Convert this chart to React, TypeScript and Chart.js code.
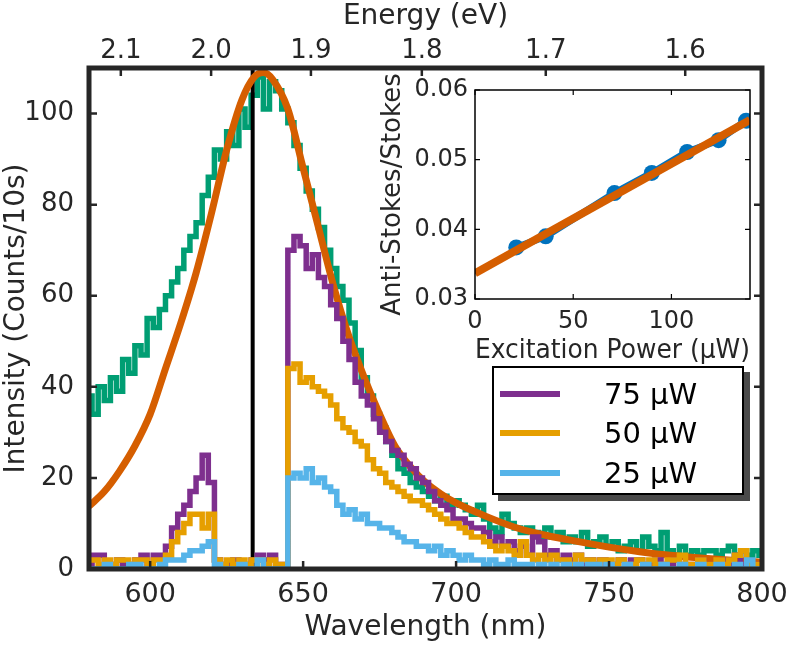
import React, { useEffect, useRef } from "react";
import { Chart, registerables } from "chart.js";

Chart.register(...registerables);

const FONT = "'DejaVu Sans', sans-serif";
const TEXT = "#262626";

// ---------- main spectrum data (2 nm grid) ----------
const WAVELENGTH = [
  580, 582, 584, 586, 588, 590, 592, 594, 596, 598,
  600, 602, 604, 606, 608, 610, 612, 614, 616, 618,
  620, 622, 624, 626, 628, 630, 632, 634, 636, 638,
  640, 642, 644, 646, 648, 650, 652, 654, 656, 658,
  660, 662, 664, 666, 668, 670, 672, 674, 676, 678,
  680, 682, 684, 686, 688, 690, 692, 694, 696, 698,
  700, 702, 704, 706, 708, 710, 712, 714, 716, 718,
  720, 722, 724, 726, 728, 730, 732, 734, 736, 738,
  740, 742, 744, 746, 748, 750, 752, 754, 756, 758,
  760, 762, 764, 766, 768, 770, 772, 774, 776, 778,
  780, 782, 784, 786, 788, 790, 792, 794, 796, 798,
  800,
];

const GREEN_NOFILTER = [
  38, 34, 40, 37, 42, 39, 46, 43, 49, 47,
  55, 53, 57, 60, 63, 66, 70, 73, 76, 82,
  86, 92, 90, 96, 93, 101, 97, 104, 108, 101,
  107, 105, 101, 98, 93, 88, 83, 79, 75, 70,
  66, 62, 59, 54, 48, 42, 38, 34, 31, 28,
  25, 22, 21, 19, 18, 17, 16, 15, 16, 14,
  15, 14, 13, 12, 14, 11, 9, 8, 12, 10,
  9, 8, 9, 8, 7, 9, 7, 8, 6, 7,
  6, 8, 5, 6, 7, 5, 6, 4, 5, 6,
  4, 7, 5, 4, 8, 4, 3, 5, 3, 4,
  3, 4, 4, 3, 4, 5, 3, 4, 3, 4,
  3,
];

const PURPLE_75 = [
  1, 3, 3, 1, 1, 2, 1, 1, 2, 3,
  1, 3, 3, 5, 9, 12, 14, 17, 20, 25,
  19, 2, 1, 1, 2, 1, 1, 2, 3, 2,
  3, 1, 1, 70, 73, 71, 66, 69, 64, 62,
  58, 55, 50, 46, 41, 38, 36, 33, 30, 28,
  26, 25, 23, 22, 20, 19, 17, 15, 14, 13,
  11, 11, 10, 9, 9, 8, 6, 7, 5, 6,
  4, 5, 3, 7, 6, 3, 4, 2, 3, 2,
  3, 1, 2, 1, 2, 1, 1, 2, 1, 2,
  2, 1, 1, 2, 1, 1, 2, 1, 1, 1,
  2, 1, 1, 1, 2, 1, 3, 1, 1, 1,
  1,
];

const YELLOW_50 = [
  2, 2, 1, 2, 1, 2, 2, 1, 2, 2,
  1, 2, 2, 3, 6, 8, 10, 12, 12, 9,
  12, 2, 1, 2, 1, 2, 1, 2, 2, 1,
  2, 1, 1, 44, 45, 41, 42, 40, 39, 38,
  36, 33, 31, 30, 28, 27, 24, 22, 21, 19,
  18, 17, 16, 15, 15, 14, 13, 12, 11, 10,
  10, 9, 8, 7, 7, 6, 5, 4, 5, 4,
  3, 6, 3, 2, 3, 2, 3, 2, 2, 1,
  3, 2, 2, 1, 2, 2, 1, 2, 1, 1,
  2, 1, 2, 1, 1, 2, 2, 3, 1, 1,
  2, 1, 1, 2, 1, 2, 3, 4, 1, 1,
  1,
];

const CYAN_25 = [
  0, 0, 0, 1, 0, 0, 0, 1, 1, 0,
  0, 0, 1, 2, 2, 2, 3, 4, 4, 5,
  6, 1, 0, 0, 0, 1, 0, 0, 2, 0,
  0, 0, 0, 20, 21, 20, 22, 19, 20, 18,
  17, 14, 12, 13, 11, 12, 10, 10, 9, 9,
  8, 7, 6, 6, 5, 5, 4, 5, 3, 4,
  3, 2, 3, 2, 2, 1, 2, 1, 1, 2,
  1, 1, 1, 0, 1, 0, 1, 0, 1, 0,
  1, 0, 1, 1, 0, 1, 0, 0, 1, 0,
  0, 1, 0, 0, 1, 0, 0, 1, 0, 0,
  1, 0, 0, 1, 0, 0, 1, 0, 2, 0,
  0,
];

// fitted curve (orange)
const FIT_NM = [580, 585, 590, 595, 600, 605, 610, 615, 620, 625, 630, 634, 637, 640, 645, 650, 655, 660, 665, 670, 675, 680, 685, 690, 695, 700, 710, 720, 730, 740, 750, 760, 770, 780, 790, 800];
const FIT_INTENSITY = [13.8, 17, 21.5, 27, 34, 44, 54, 65, 78, 92, 103, 108, 109, 107.5, 101, 88, 75, 62, 51, 42, 34, 27, 22.5, 19, 16.5, 14.5, 11.5, 9, 7.3, 6, 4.8, 3.8, 3, 2.4, 1.9, 1.5];

const LASER_NM = 633.5;

const X_TICKS = [600, 650, 700, 750, 800];
const Y_TICKS = [0, 20, 40, 60, 80, 100];
const ENERGY_TICKS = [2.1, 2.0, 1.9, 1.8, 1.7, 1.6];
const HC = 1239.84;

// ---------- inset data ----------
const POWER_UW = [21, 36, 71, 90, 108, 124, 138];
const AS_S_RATIO = [0.0374, 0.039, 0.0452, 0.0481, 0.0511, 0.0528, 0.0556];
const FIT_POWER = [0, 140];
const FIT_RATIO = [0.0337, 0.0557];
const INSET_X_TICKS = [0, 50, 100];
const INSET_Y_TICKS = [0.03, 0.04, 0.05, 0.06];

const C_PURPLE = "#7E2F8E";
const C_YELLOW = "#E69F00";
const C_CYAN = "#56B4E9";
const C_GREEN = "#009E73";
const C_ORANGE = "#D55E00";
const C_BLUE = "#0072BD";

const LEGEND = [
  { label: "75 μW", color: C_PURPLE },
  { label: "50 μW", color: C_YELLOW },
  { label: "25 μW", color: C_CYAN },
];

const pts = (xs: number[], ys: number[]) => xs.map((x, i) => ({ x, y: ys[i] }));

function makeFrame(id: string, opts: { len: number; frameW: number; tickW: number; color: string; topId?: string }) {
  return {
    id,
    afterDatasetsDraw(chart: any) {
      const { ctx, chartArea: a, scales } = chart;
      const xs = scales.x;
      const ys = scales.y;
      ctx.save();
      ctx.strokeStyle = opts.color;
      ctx.lineWidth = opts.tickW;
      ctx.beginPath();
      xs.ticks.forEach((t: any) => {
        const p = xs.getPixelForValue(t.value);
        ctx.moveTo(p, a.bottom);
        ctx.lineTo(p, a.bottom - opts.len);
        if (!opts.topId) {
          ctx.moveTo(p, a.top);
          ctx.lineTo(p, a.top + opts.len);
        }
      });
      if (opts.topId) {
        const ts = scales[opts.topId];
        ts.ticks.forEach((t: any) => {
          const p = ts.getPixelForValue(t.value);
          ctx.moveTo(p, a.top);
          ctx.lineTo(p, a.top + opts.len);
        });
      }
      ys.ticks.forEach((t: any) => {
        const p = ys.getPixelForValue(t.value);
        ctx.moveTo(a.left, p);
        ctx.lineTo(a.left + opts.len, p);
        ctx.moveTo(a.right, p);
        ctx.lineTo(a.right - opts.len, p);
      });
      ctx.stroke();
      ctx.lineWidth = opts.frameW;
      ctx.strokeRect(a.left, a.top, a.right - a.left, a.bottom - a.top);
      ctx.restore();
    },
  };
}

const NO_GRID = { display: false, drawTicks: false };

function mainConfig(): any {
  const tickFont = { family: FONT, size: 26 };
  const bottomTickFont = { family: FONT, size: 27 };
  const titleFont = { family: FONT, size: 28 };
  const spec = { borderWidth: 5.5, stepped: "middle", pointRadius: 0, borderJoinStyle: "miter" };
  return {
    type: "line",
    data: {
      datasets: [
        { label: "25 μW", data: pts(WAVELENGTH, CYAN_25), borderColor: C_CYAN, ...spec, order: 0 },
        { label: "50 μW", data: pts(WAVELENGTH, YELLOW_50), borderColor: C_YELLOW, ...spec, order: 1 },
        { label: "75 μW", data: pts(WAVELENGTH, PURPLE_75), borderColor: C_PURPLE, ...spec, order: 2 },
        { label: "fit", data: pts(FIT_NM, FIT_INTENSITY), borderColor: C_ORANGE, borderWidth: 7, cubicInterpolationMode: "monotone", pointRadius: 0, order: 3 },
        { label: "laser", data: [{ x: LASER_NM, y: 0 }, { x: LASER_NM, y: 110 }], borderColor: "#000", borderWidth: 4, pointRadius: 0, order: 4 },
        { label: "no filter", data: pts(WAVELENGTH, GREEN_NOFILTER), borderColor: C_GREEN, ...spec, order: 5 },
      ],
    },
    options: {
      responsive: false,
      animation: false,
      events: [],
      layout: { padding: { left: 0, right: 25, top: 0, bottom: 0 } },
      plugins: { legend: { display: false }, tooltip: { enabled: false } },
      scales: {
        x: {
          type: "linear", position: "bottom", min: 580, max: 800,
          grid: NO_GRID, border: { display: false },
          afterBuildTicks: (s: any) => { s.ticks = X_TICKS.map((v) => ({ value: v })); },
          afterFit: (s: any) => { s.height = 77; s.paddingLeft = 0; s.paddingRight = 0; },
          ticks: { font: bottomTickFont, color: TEXT, padding: 10, maxRotation: 0, autoSkip: false },
          title: { display: true, text: "Wavelength (nm)", font: titleFont, color: TEXT, padding: { top: 0, bottom: 1 } },
        },
        xTop: {
          type: "linear", position: "top", min: 580, max: 800,
          grid: NO_GRID, border: { display: false },
          afterBuildTicks: (s: any) => { s.ticks = ENERGY_TICKS.map((e) => ({ value: HC / e })); },
          afterFit: (s: any) => { s.height = 68; s.paddingLeft = 0; s.paddingRight = 0; },
          ticks: { font: tickFont, color: TEXT, padding: 1, maxRotation: 0, autoSkip: false, callback: (_v: any, i: number) => ENERGY_TICKS[i].toFixed(1) },
          title: { display: true, text: "Energy (eV)", font: titleFont, color: TEXT, padding: { top: 0, bottom: 0 } },
        },
        y: {
          type: "linear", position: "left", min: 0, max: 110,
          grid: NO_GRID, border: { display: false },
          afterBuildTicks: (s: any) => { s.ticks = Y_TICKS.map((v) => ({ value: v })); },
          afterFit: (s: any) => { s.width = 89; s.paddingTop = 0; s.paddingBottom = 0; },
          ticks: { font: tickFont, color: TEXT, padding: 15 },
          title: { display: true, text: "Intensity (Counts/10s)", font: titleFont, color: TEXT, padding: { top: 0, bottom: 0 } },
        },
      },
    },
    plugins: [makeFrame("mainFrame", { len: 8, frameW: 5, tickW: 2.5, color: "#262626", topId: "xTop" })],
  };
}

function insetConfig(): any {
  const tickFont = { family: FONT, size: 24 };
  const titleFont = { family: FONT, size: 26 };
  return {
    type: "line",
    data: {
      datasets: [
        { label: "fit", data: pts(FIT_POWER, FIT_RATIO), borderColor: C_ORANGE, borderWidth: 8, pointRadius: 0, order: 0 },
        { label: "ratio", data: pts(POWER_UW, AS_S_RATIO), borderColor: C_BLUE, backgroundColor: C_BLUE, borderWidth: 7, pointRadius: 8, pointBorderWidth: 0, order: 1 },
      ],
    },
    options: {
      responsive: false,
      animation: false,
      events: [],
      layout: { padding: { left: 0, right: 20, top: 20, bottom: 0 } },
      plugins: { legend: { display: false }, tooltip: { enabled: false } },
      scales: {
        x: {
          type: "linear", position: "bottom", min: 0, max: 140,
          grid: NO_GRID, border: { display: false },
          afterBuildTicks: (s: any) => { s.ticks = INSET_X_TICKS.map((v) => ({ value: v })); },
          afterFit: (s: any) => { s.height = 71; s.paddingLeft = 0; s.paddingRight = 0; },
          ticks: { font: tickFont, color: TEXT, padding: 8, maxRotation: 0, autoSkip: false },
          title: { display: true, text: "Excitation Power (μW)", font: titleFont, color: TEXT, padding: { top: 0, bottom: 3 } },
        },
        y: {
          type: "linear", position: "left", min: 0.03, max: 0.06,
          grid: NO_GRID, border: { display: false },
          afterBuildTicks: (s: any) => { s.ticks = INSET_Y_TICKS.map((v) => ({ value: v })); },
          afterFit: (s: any) => { s.width = 115; s.paddingTop = 0; s.paddingBottom = 0; },
          ticks: { font: tickFont, color: TEXT, padding: 7, callback: (v: any) => Number(v).toFixed(2) },
          title: { display: true, text: "Anti-Stokes/Stokes", font: titleFont, color: TEXT, padding: { top: 18, bottom: 0 } },
        },
      },
    },
    plugins: [makeFrame("insetFrame", { len: 5, frameW: 1.5, tickW: 1.2, color: "#000" })],
  };
}

export default function App() {
  const mainRef = useRef<HTMLCanvasElement>(null);
  const insetRef = useRef<HTMLCanvasElement>(null);

  useEffect(() => {
    const c1 = new Chart(mainRef.current as HTMLCanvasElement, mainConfig());
    const c2 = new Chart(insetRef.current as HTMLCanvasElement, insetConfig());
    return () => {
      c1.destroy();
      c2.destroy();
    };
  }, []);

  return (
    <div style={{ position: "absolute", left: 0, top: 0, width: 787, height: 646, background: "#fff", overflow: "hidden" }}>
      <canvas ref={mainRef} width={787} height={646} style={{ position: "absolute", left: 0, top: 0 }} />
      <canvas ref={insetRef} width={410} height={300} style={{ position: "absolute", left: 360, top: 70 }} />
      <div
        style={{
          position: "absolute", left: 492, top: 366, width: 252, height: 129,
          border: "2.5px solid #000", background: "#fff", boxShadow: "6px 6px 0 #4a4a4a",
          boxSizing: "border-box", fontFamily: FONT,
        }}
      >
        {LEGEND.map((e, i) => (
          <div key={i} style={{ position: "absolute", left: 6, top: 11.5 + i * 39.5, height: 28, display: "flex", alignItems: "center" }}>
            <span style={{ display: "inline-block", width: 60, height: 6, background: e.color }} />
            <span style={{ marginLeft: 44, fontSize: 29, color: "#000", whiteSpace: "nowrap" }}>{e.label}</span>
          </div>
        ))}
      </div>
    </div>
  );
}
